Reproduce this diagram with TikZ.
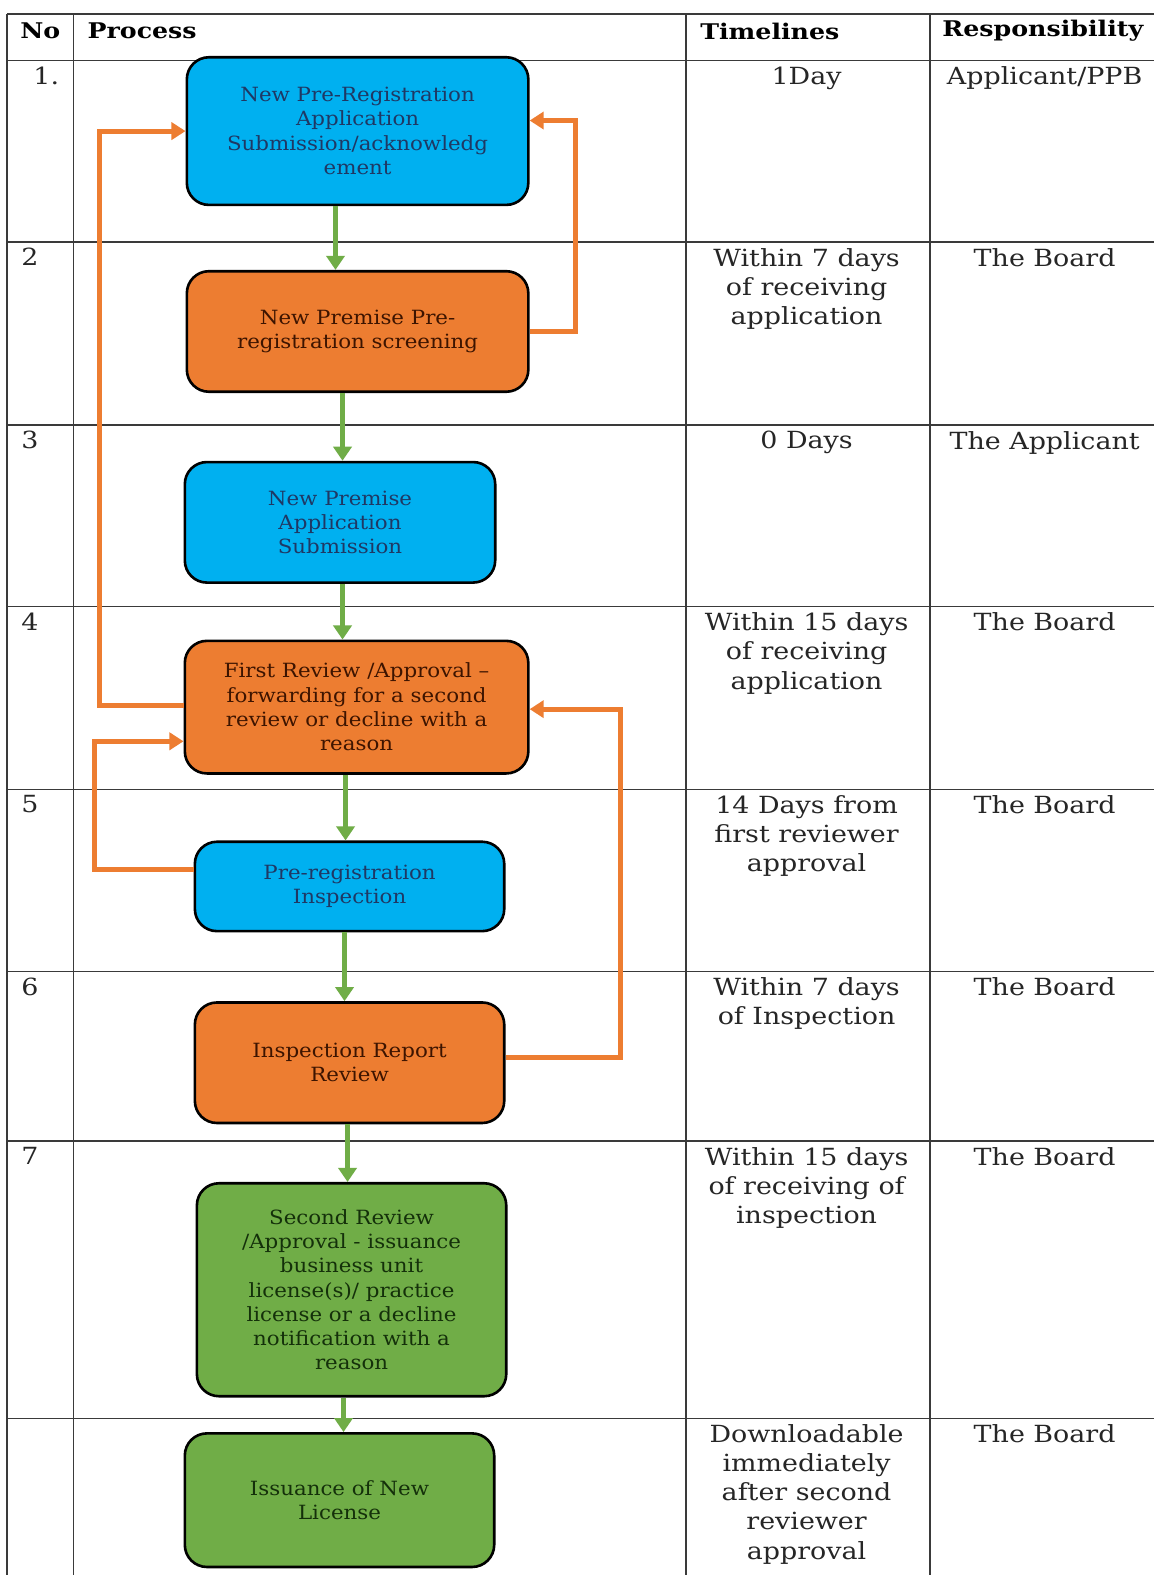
\documentclass[tikz,border=0pt]{standalone}
\usepackage{fontspec}
\setmainfont{DejaVu Serif}
\newfontfamily\cellserif[FakeStretch=1.14]{DejaVu Serif}
\newfontfamily\boxserif[FakeStretch=1.09]{DejaVu Serif}
\newfontfamily\headserif[FakeStretch=1.17]{DejaVu Serif}
\usetikzlibrary{arrows.meta}

\definecolor{boxblue}{HTML}{00B0F0}
\definecolor{boxorange}{HTML}{ED7D31}
\definecolor{boxgreen}{HTML}{70AD47}
\definecolor{txtblue}{HTML}{1F3864}
\definecolor{txtorange}{HTML}{3D1400}
\definecolor{txtgreen}{HTML}{14300A}
\definecolor{gridline}{HTML}{3A3A3A}
\definecolor{celltext}{HTML}{262626}

\begin{document}
\begin{tikzpicture}[x=1pt,y=-1pt,
  proc/.style={draw=black, line width=2.6pt, rounded corners=22pt, align=center,
    inner sep=0pt, font=\boxserif\fontsize{19.5}{24.2}\selectfont},
  blueproc/.style={proc, fill=boxblue, text=txtblue},
  orangeproc/.style={proc, fill=boxorange, text=txtorange},
  greenproc/.style={proc, fill=boxgreen, text=txtgreen},
  flow/.style={draw=boxgreen, line width=5pt, -{Triangle[width=18pt,length=14pt]}},
  back/.style={draw=boxorange, line width=5pt, -{Triangle[width=17pt,length=14pt]}},
  cell/.style={anchor=north, align=center, inner sep=0pt,
    font=\cellserif\fontsize{23.5}{29}\selectfont, text=celltext},
  rowno/.style={anchor=north west, inner sep=0pt, font=\cellserif\fontsize{23.5}{29}\selectfont, text=celltext},
  head/.style={anchor=west, inner sep=0pt, font=\headserif\bfseries\fontsize{21.5}{25}\selectfont},
  grid/.style={draw=gridline, line width=1.4pt}
]
\useasboundingbox[fill=white] (0,0) rectangle (1149,1568);

% table rules
\foreach \y in {14,60,241,423,604,786,967,1136,1412}
  \draw[grid] (7,\y) -- (1149,\y);
\foreach \x in {7,73,683,926}
  \draw[grid] (\x,14) -- (\x,1568);

% header
\node[head] (hno) at (20,31) {No};
\node[head] (hproc) at (87,31) {Process};
\node[head] (htime) at (697,31) {Timelines};
\node[head] (hresp) at (938,31) {Responsibility};

% row numbers
\node[rowno, anchor=north east] (n1) at (59,66) {1.};
\node[rowno] (n2) at (21,247) {2};
\node[rowno] (n3) at (21,429) {3};
\node[rowno] (n4) at (21,610) {4};
\node[rowno] (n5) at (21,792) {5};
\node[rowno] (n6) at (21,973) {6};
\node[rowno] (n7) at (21,1142) {7};

% timelines
\node[cell] (t1) at (803,66) {1Day};
\node[cell] (t2) at (803,247) {Within 7 days\\of receiving\\application};
\node[cell] (t3) at (803,429) {0 Days};
\node[cell] (t4) at (803,610) {Within 15 days\\of receiving\\application};
\node[cell] (t5) at (803,792) {14 Days from\\first reviewer\\approval};
\node[cell] (t6) at (803,973) {Within 7 days\\of Inspection};
\node[cell] (t7) at (803,1142) {Within 15 days\\of receiving of\\inspection};
\node[cell] (t8) at (803,1418) {Downloadable\\immediately\\after second\\reviewer\\approval};

% responsibility
\node[cell] (r1) at (1040,66) {Applicant/PPB};
\node[cell] (r2) at (1040,247) {The Board};
\node[cell] (r3) at (1040,429) {The Applicant};
\node[cell] (r4) at (1040,610) {The Board};
\node[cell] (r5) at (1040,792) {The Board};
\node[cell] (r6) at (1040,973) {The Board};
\node[cell] (r7) at (1040,1142) {The Board};
\node[cell] (r8) at (1040,1418) {The Board};

% process steps
\node[blueproc, minimum width=340pt, minimum height=147pt] (b1) at (356,130.5)
  {New Pre-Registration\\Application\\Submission/acknowledg\\ement};
\node[orangeproc, minimum width=340pt, minimum height=120pt] (b2) at (356,330)
  {New Premise Pre-\\registration screening};
\node[blueproc, minimum width=309pt, minimum height=120pt] (b3) at (338.5,520)
  {New Premise\\Application\\Submission};
\node[orangeproc, minimum width=342pt, minimum height=132pt] (b4) at (355,704)
  {First Review /Approval –\\forwarding for a second\\review or decline with a\\reason};
\node[blueproc, minimum width=308pt, minimum height=89pt] (b5) at (348,882.5)
  {Pre-registration\\Inspection};
\node[orangeproc, minimum width=308pt, minimum height=120pt] (b6) at (348,1058)
  {Inspection Report\\Review};
\node[greenproc, minimum width=308pt, minimum height=212pt] (b7) at (350,1284)
  {Second Review\\/Approval - issuance\\business unit\\license(s)/ practice\\license or a decline\\notification with a\\reason};
\node[greenproc, minimum width=308pt, minimum height=133pt] (b8) at (338,1493.5)
  {Issuance of New\\License};

% forward flow
\draw[flow] ([xshift=-22pt]b1.south) -- ([xshift=-22pt]b2.north);
\draw[flow] ([xshift=-15pt]b2.south) -- ([xshift=2.5pt]b3.north);
\draw[flow] ([xshift=2.5pt]b3.south) -- ([xshift=-14pt]b4.north);
\draw[flow] ([xshift=-11pt]b4.south) -- ([xshift=-4pt]b5.north);
\draw[flow] ([xshift=-5pt]b5.south) -- ([xshift=-5pt]b6.north);
\draw[flow] ([xshift=-2pt]b6.south) -- ([xshift=-4pt]b7.north);
\draw[flow] ([xshift=-8pt]b7.south) -- ([xshift=4pt]b8.north);

% return loops
\draw[back] (b2.east) -- ++(46,0) |- ([yshift=10.5pt]b1.east);
\draw[back] ([yshift=2pt]b4.west) -- ++(-84,0) |- (b1.west);
\draw[back] ([yshift=16.5pt]b5.west) -- ++(-99,0) |- ([yshift=-34pt]b4.west);
\draw[back] ([yshift=5pt]b6.east) -- ++(114,0) |- ([yshift=-2pt]b4.east);
\end{tikzpicture}
\end{document}
